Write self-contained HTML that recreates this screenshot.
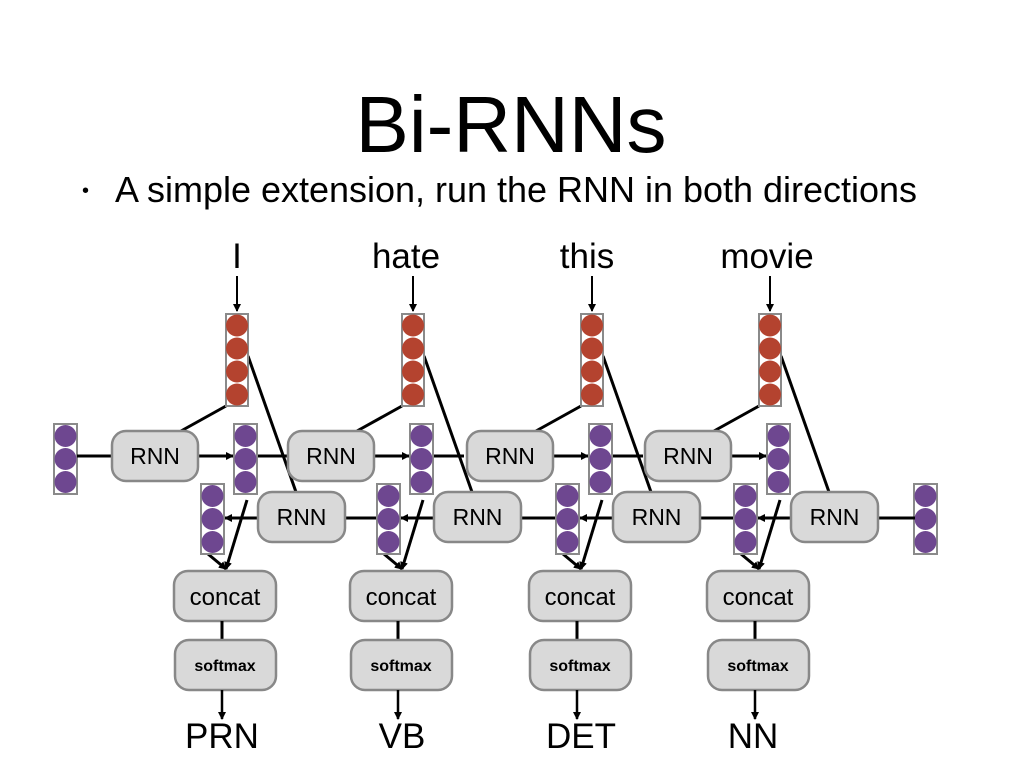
<!DOCTYPE html>
<html><head><meta charset="utf-8"><style>
html,body{margin:0;padding:0;background:#fff;}
svg{display:block;font-family:"Liberation Sans",Arial,sans-serif;}
</style></head><body>
<svg width="1024" height="768" viewBox="0 0 1024 768" xmlns="http://www.w3.org/2000/svg">
<defs>
<marker id="ah" markerWidth="8" markerHeight="8" refX="7" refY="4" orient="auto" markerUnits="userSpaceOnUse"><path d="M0,0 L8,4 L0,8 z" fill="#000"/></marker>
</defs>
<text x="511" y="152" font-size="80" text-anchor="middle">Bi-RNNs</text>
<text x="82" y="197" font-size="20">•</text>
<text x="115" y="202" font-size="36" textLength="802" lengthAdjust="spacingAndGlyphs">A simple extension, run the RNN in both directions</text>
<g font-size="35" text-anchor="middle">
<text x="237" y="268">I</text><text x="406" y="268">hate</text><text x="587" y="268">this</text><text x="767" y="268">movie</text>
</g>
<!-- initial left purple -->
<g>
<rect x="54" y="424" width="23" height="70" fill="#fff" stroke="#8a8a8a" stroke-width="2"/>
<circle cx="65.5" cy="436" r="11" fill="#6e4790"/><circle cx="65.5" cy="459" r="11" fill="#6e4790"/><circle cx="65.5" cy="482" r="11" fill="#6e4790"/>
<line x1="77" y1="456" x2="112" y2="456" stroke="#000" stroke-width="3"/>
</g>
<!-- rightmost purple -->
<g>
<rect x="914" y="484" width="23" height="70" fill="#fff" stroke="#8a8a8a" stroke-width="2"/>
<circle cx="925.5" cy="496" r="11" fill="#6e4790"/><circle cx="925.5" cy="519" r="11" fill="#6e4790"/><circle cx="925.5" cy="542" r="11" fill="#6e4790"/>
</g>

<g id="c1">
<line x1="237" y1="276" x2="237" y2="311" stroke="#000" stroke-width="2" marker-end="url(#ah)"/>
<line x1="226" y1="406" x2="181" y2="431" stroke="#000" stroke-width="3"/>
<line x1="248" y1="356" x2="296" y2="492" stroke="#000" stroke-width="3"/>
<rect x="226" y="314" width="22" height="92" fill="#fff" stroke="#8a8a8a" stroke-width="2"/>
<circle cx="237" cy="325.5" r="11" fill="#b4432f"/><circle cx="237" cy="348.5" r="11" fill="#b4432f"/><circle cx="237" cy="371.5" r="11" fill="#b4432f"/><circle cx="237" cy="394.5" r="11" fill="#b4432f"/>
<line x1="199" y1="456" x2="233" y2="456" stroke="#000" stroke-width="3" marker-end="url(#ah)"/>
<line x1="257" y1="456" x2="288" y2="456" stroke="#000" stroke-width="3"/>
<line x1="345" y1="518" x2="382" y2="518" stroke="#000" stroke-width="3"/>
<line x1="258" y1="518" x2="225" y2="518" stroke="#000" stroke-width="3" marker-end="url(#ah)"/>
<line x1="247" y1="500" x2="226" y2="569" stroke="#000" stroke-width="3" marker-end="url(#ah)"/>
<line x1="208" y1="554" x2="226" y2="569" stroke="#000" stroke-width="3" marker-end="url(#ah)"/>
<rect x="234" y="424" width="23" height="70" fill="#fff" stroke="#8a8a8a" stroke-width="2"/>
<circle cx="245.5" cy="436" r="11" fill="#6e4790"/><circle cx="245.5" cy="459" r="11" fill="#6e4790"/><circle cx="245.5" cy="482" r="11" fill="#6e4790"/>
<rect x="201" y="484" width="23" height="70" fill="#fff" stroke="#8a8a8a" stroke-width="2"/>
<circle cx="212.5" cy="496" r="11" fill="#6e4790"/><circle cx="212.5" cy="519" r="11" fill="#6e4790"/><circle cx="212.5" cy="542" r="11" fill="#6e4790"/>
<rect x="112" y="431" width="86" height="50" rx="14" fill="#d9d9d9" stroke="#888" stroke-width="2.5"/>
<text x="155" y="464" font-size="23" text-anchor="middle">RNN</text>
<rect x="258" y="492" width="87" height="50" rx="14" fill="#d9d9d9" stroke="#888" stroke-width="2.5"/>
<text x="301.5" y="525" font-size="23" text-anchor="middle">RNN</text>
<rect x="174" y="571" width="102" height="50" rx="14" fill="#d9d9d9" stroke="#888" stroke-width="2.5"/>
<text x="225" y="605" font-size="24" text-anchor="middle">concat</text>
<line x1="222" y1="621" x2="222" y2="640" stroke="#000" stroke-width="3"/>
<rect x="175" y="640" width="101" height="50" rx="14" fill="#d9d9d9" stroke="#888" stroke-width="2.5"/>
<text x="225" y="671" font-size="16" font-weight="bold" text-anchor="middle">softmax</text>
<line x1="222" y1="690" x2="222" y2="719" stroke="#000" stroke-width="2.5" marker-end="url(#ah)"/>
</g>
<g transform="translate(176,0)">
<line x1="237" y1="276" x2="237" y2="311" stroke="#000" stroke-width="2" marker-end="url(#ah)"/>
<line x1="226" y1="406" x2="181" y2="431" stroke="#000" stroke-width="3"/>
<line x1="248" y1="356" x2="296" y2="492" stroke="#000" stroke-width="3"/>
<rect x="226" y="314" width="22" height="92" fill="#fff" stroke="#8a8a8a" stroke-width="2"/>
<circle cx="237" cy="325.5" r="11" fill="#b4432f"/><circle cx="237" cy="348.5" r="11" fill="#b4432f"/><circle cx="237" cy="371.5" r="11" fill="#b4432f"/><circle cx="237" cy="394.5" r="11" fill="#b4432f"/>
<line x1="199" y1="456" x2="233" y2="456" stroke="#000" stroke-width="3" marker-end="url(#ah)"/>
<line x1="257" y1="456" x2="288" y2="456" stroke="#000" stroke-width="3"/>
<line x1="345" y1="518" x2="382" y2="518" stroke="#000" stroke-width="3"/>
<line x1="258" y1="518" x2="225" y2="518" stroke="#000" stroke-width="3" marker-end="url(#ah)"/>
<line x1="247" y1="500" x2="226" y2="569" stroke="#000" stroke-width="3" marker-end="url(#ah)"/>
<line x1="208" y1="554" x2="226" y2="569" stroke="#000" stroke-width="3" marker-end="url(#ah)"/>
<rect x="234" y="424" width="23" height="70" fill="#fff" stroke="#8a8a8a" stroke-width="2"/>
<circle cx="245.5" cy="436" r="11" fill="#6e4790"/><circle cx="245.5" cy="459" r="11" fill="#6e4790"/><circle cx="245.5" cy="482" r="11" fill="#6e4790"/>
<rect x="201" y="484" width="23" height="70" fill="#fff" stroke="#8a8a8a" stroke-width="2"/>
<circle cx="212.5" cy="496" r="11" fill="#6e4790"/><circle cx="212.5" cy="519" r="11" fill="#6e4790"/><circle cx="212.5" cy="542" r="11" fill="#6e4790"/>
<rect x="112" y="431" width="86" height="50" rx="14" fill="#d9d9d9" stroke="#888" stroke-width="2.5"/>
<text x="155" y="464" font-size="23" text-anchor="middle">RNN</text>
<rect x="258" y="492" width="87" height="50" rx="14" fill="#d9d9d9" stroke="#888" stroke-width="2.5"/>
<text x="301.5" y="525" font-size="23" text-anchor="middle">RNN</text>
<rect x="174" y="571" width="102" height="50" rx="14" fill="#d9d9d9" stroke="#888" stroke-width="2.5"/>
<text x="225" y="605" font-size="24" text-anchor="middle">concat</text>
<line x1="222" y1="621" x2="222" y2="640" stroke="#000" stroke-width="3"/>
<rect x="175" y="640" width="101" height="50" rx="14" fill="#d9d9d9" stroke="#888" stroke-width="2.5"/>
<text x="225" y="671" font-size="16" font-weight="bold" text-anchor="middle">softmax</text>
<line x1="222" y1="690" x2="222" y2="719" stroke="#000" stroke-width="2.5" marker-end="url(#ah)"/>
</g>
<g transform="translate(355,0)">
<line x1="237" y1="276" x2="237" y2="311" stroke="#000" stroke-width="2" marker-end="url(#ah)"/>
<line x1="226" y1="406" x2="181" y2="431" stroke="#000" stroke-width="3"/>
<line x1="248" y1="356" x2="296" y2="492" stroke="#000" stroke-width="3"/>
<rect x="226" y="314" width="22" height="92" fill="#fff" stroke="#8a8a8a" stroke-width="2"/>
<circle cx="237" cy="325.5" r="11" fill="#b4432f"/><circle cx="237" cy="348.5" r="11" fill="#b4432f"/><circle cx="237" cy="371.5" r="11" fill="#b4432f"/><circle cx="237" cy="394.5" r="11" fill="#b4432f"/>
<line x1="199" y1="456" x2="233" y2="456" stroke="#000" stroke-width="3" marker-end="url(#ah)"/>
<line x1="257" y1="456" x2="288" y2="456" stroke="#000" stroke-width="3"/>
<line x1="345" y1="518" x2="382" y2="518" stroke="#000" stroke-width="3"/>
<line x1="258" y1="518" x2="225" y2="518" stroke="#000" stroke-width="3" marker-end="url(#ah)"/>
<line x1="247" y1="500" x2="226" y2="569" stroke="#000" stroke-width="3" marker-end="url(#ah)"/>
<line x1="208" y1="554" x2="226" y2="569" stroke="#000" stroke-width="3" marker-end="url(#ah)"/>
<rect x="234" y="424" width="23" height="70" fill="#fff" stroke="#8a8a8a" stroke-width="2"/>
<circle cx="245.5" cy="436" r="11" fill="#6e4790"/><circle cx="245.5" cy="459" r="11" fill="#6e4790"/><circle cx="245.5" cy="482" r="11" fill="#6e4790"/>
<rect x="201" y="484" width="23" height="70" fill="#fff" stroke="#8a8a8a" stroke-width="2"/>
<circle cx="212.5" cy="496" r="11" fill="#6e4790"/><circle cx="212.5" cy="519" r="11" fill="#6e4790"/><circle cx="212.5" cy="542" r="11" fill="#6e4790"/>
<rect x="112" y="431" width="86" height="50" rx="14" fill="#d9d9d9" stroke="#888" stroke-width="2.5"/>
<text x="155" y="464" font-size="23" text-anchor="middle">RNN</text>
<rect x="258" y="492" width="87" height="50" rx="14" fill="#d9d9d9" stroke="#888" stroke-width="2.5"/>
<text x="301.5" y="525" font-size="23" text-anchor="middle">RNN</text>
<rect x="174" y="571" width="102" height="50" rx="14" fill="#d9d9d9" stroke="#888" stroke-width="2.5"/>
<text x="225" y="605" font-size="24" text-anchor="middle">concat</text>
<line x1="222" y1="621" x2="222" y2="640" stroke="#000" stroke-width="3"/>
<rect x="175" y="640" width="101" height="50" rx="14" fill="#d9d9d9" stroke="#888" stroke-width="2.5"/>
<text x="225" y="671" font-size="16" font-weight="bold" text-anchor="middle">softmax</text>
<line x1="222" y1="690" x2="222" y2="719" stroke="#000" stroke-width="2.5" marker-end="url(#ah)"/>
</g>
<g transform="translate(533,0)">
<line x1="237" y1="276" x2="237" y2="311" stroke="#000" stroke-width="2" marker-end="url(#ah)"/>
<line x1="226" y1="406" x2="181" y2="431" stroke="#000" stroke-width="3"/>
<line x1="248" y1="356" x2="296" y2="492" stroke="#000" stroke-width="3"/>
<rect x="226" y="314" width="22" height="92" fill="#fff" stroke="#8a8a8a" stroke-width="2"/>
<circle cx="237" cy="325.5" r="11" fill="#b4432f"/><circle cx="237" cy="348.5" r="11" fill="#b4432f"/><circle cx="237" cy="371.5" r="11" fill="#b4432f"/><circle cx="237" cy="394.5" r="11" fill="#b4432f"/>
<line x1="199" y1="456" x2="233" y2="456" stroke="#000" stroke-width="3" marker-end="url(#ah)"/>
<line x1="345" y1="518" x2="382" y2="518" stroke="#000" stroke-width="3"/>
<line x1="258" y1="518" x2="225" y2="518" stroke="#000" stroke-width="3" marker-end="url(#ah)"/>
<line x1="247" y1="500" x2="226" y2="569" stroke="#000" stroke-width="3" marker-end="url(#ah)"/>
<line x1="208" y1="554" x2="226" y2="569" stroke="#000" stroke-width="3" marker-end="url(#ah)"/>
<rect x="234" y="424" width="23" height="70" fill="#fff" stroke="#8a8a8a" stroke-width="2"/>
<circle cx="245.5" cy="436" r="11" fill="#6e4790"/><circle cx="245.5" cy="459" r="11" fill="#6e4790"/><circle cx="245.5" cy="482" r="11" fill="#6e4790"/>
<rect x="201" y="484" width="23" height="70" fill="#fff" stroke="#8a8a8a" stroke-width="2"/>
<circle cx="212.5" cy="496" r="11" fill="#6e4790"/><circle cx="212.5" cy="519" r="11" fill="#6e4790"/><circle cx="212.5" cy="542" r="11" fill="#6e4790"/>
<rect x="112" y="431" width="86" height="50" rx="14" fill="#d9d9d9" stroke="#888" stroke-width="2.5"/>
<text x="155" y="464" font-size="23" text-anchor="middle">RNN</text>
<rect x="258" y="492" width="87" height="50" rx="14" fill="#d9d9d9" stroke="#888" stroke-width="2.5"/>
<text x="301.5" y="525" font-size="23" text-anchor="middle">RNN</text>
<rect x="174" y="571" width="102" height="50" rx="14" fill="#d9d9d9" stroke="#888" stroke-width="2.5"/>
<text x="225" y="605" font-size="24" text-anchor="middle">concat</text>
<line x1="222" y1="621" x2="222" y2="640" stroke="#000" stroke-width="3"/>
<rect x="175" y="640" width="101" height="50" rx="14" fill="#d9d9d9" stroke="#888" stroke-width="2.5"/>
<text x="225" y="671" font-size="16" font-weight="bold" text-anchor="middle">softmax</text>
<line x1="222" y1="690" x2="222" y2="719" stroke="#000" stroke-width="2.5" marker-end="url(#ah)"/>
</g>
<g font-size="35" text-anchor="middle">
<text x="222" y="748">PRN</text><text x="402" y="748">VB</text><text x="581" y="748">DET</text><text x="753" y="748">NN</text>
</g>
</svg>
</body></html>
